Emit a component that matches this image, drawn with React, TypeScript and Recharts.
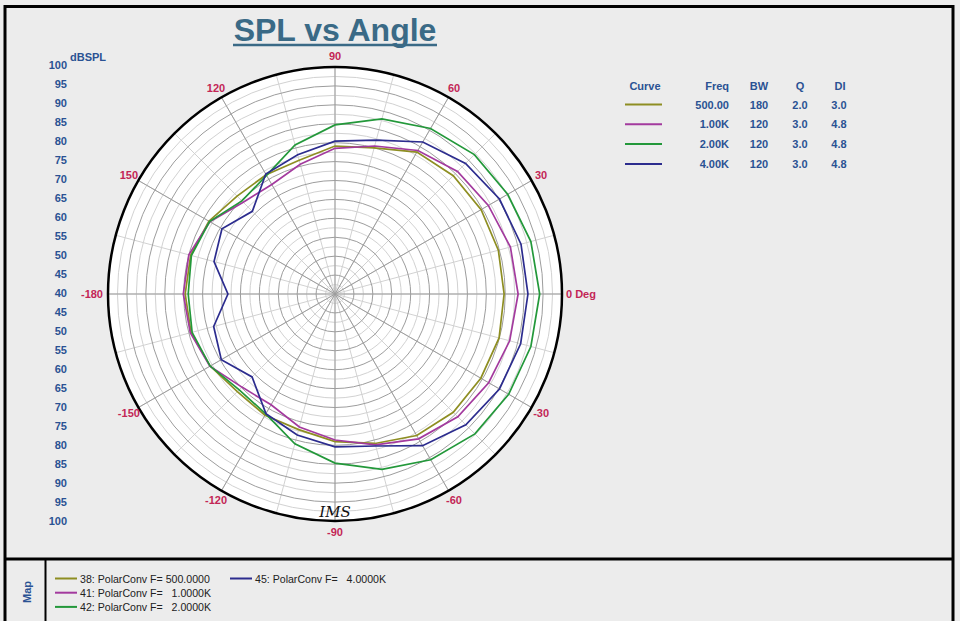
import React from 'react';
import { RadarChart, Radar, PolarGrid, PolarAngleAxis, PolarRadiusAxis } from 'recharts';

// angles in degrees, counter-clockwise from 0 Deg (right)
const angles = [0, 15, 30, 45, 60, 75, 90, 105, 120, 135, 150, 165, 180, 195, 210, 225, 240, 255, 270, 285, 300, 315, 330, 345];

// dBSPL
const spl500 = [84.7, 84.7, 84.6, 84.2, 83.3, 80.0, 79.1, 76.6, 76.4, 76.6, 78.5, 79.5, 79.6, 79.4, 78.1, 76.5, 77.0, 77.1, 79.0, 80.9, 83.2, 84.2, 84.5, 84.9];
const spl1k = [88.4, 88.0, 86.8, 85.8, 83.8, 80.5, 78.5, 75.5, 73.4, 74.3, 78.2, 80.0, 80.1, 79.6, 78.2, 74.8, 73.8, 76.4, 78.6, 81.3, 84.2, 85.9, 86.9, 87.8];
const spl2k = [94.1, 93.6, 92.7, 92.1, 90.5, 87.9, 84.7, 80.8, 76.2, 74.8, 78.3, 79.3, 78.8, 79.1, 78.1, 75.8, 76.6, 81.0, 84.7, 88.0, 90.6, 92.3, 93.0, 93.6];
const spl4k = [91.0, 90.9, 90.2, 88.8, 86.4, 82.1, 80.4, 78.1, 76.6, 70.9, 74.5, 73.1, 68.3, 73.2, 74.7, 71.0, 76.5, 78.6, 80.4, 81.6, 86.3, 88.9, 90.2, 90.8];

const angleTickLabels = ['0 Deg', '30', '60', '90', '120', '150', '-180', '-150', '-120', '-90', '-60', '-30'];
const dbTicks = [100, 95, 90, 85, 80, 75, 70, 65, 60, 55, 50, 45, 40, 45, 50, 55, 60, 65, 70, 75, 80, 85, 90, 95, 100];
const minorRings = [42.5, 47.5, 52.5, 57.5, 62.5, 67.5, 72.5, 77.5, 82.5, 87.5, 92.5, 97.5];
const majorRings = [45, 50, 55, 60, 65, 70, 75, 80, 85, 90, 95];

const curveFreq = ['500.00', '1.00K', '2.00K', '4.00K'];
const curveBW = ['180', '120', '120', '120'];
const curveQ = ['2.0', '3.0', '3.0', '3.0'];
const curveDI = ['3.0', '4.8', '4.8', '4.8'];
const mapLabels = ['38: PolarConv F= 500.0000', '41: PolarConv F=   1.0000K', '42: PolarConv F=   2.0000K', '45: PolarConv F=   4.0000K'];

const keys = ['f500', 'f1k', 'f2k', 'f4k'];
const colors = ['#8e8e22', '#a33a9e', '#23983a', '#2c2c8e'];

// the chart runs from 360 down to 0, so rows go 0, 345, 330 ... 15 to come out counter-clockwise
const order = angles.map((_, j) => (angles.length - j) % angles.length);
const data = order.map((i) => ({ angle: angles[i], f500: spl500[i], f1k: spl1k[i], f2k: spl2k[i], f4k: spl4k[i] }));

const CX = 335;
const CY = 294;
const R = 227;
const MIN_DB = 40;
const MAX_DB = 100;
const rOf = (v: number) => ((v - MIN_DB) / (MAX_DB - MIN_DB)) * R;

const FONT = 'Liberation Sans, Arial, sans-serif';
const BLUE = '#2a5293';
const RED = '#c32656';

// place the label from the tick's own angle value
const AngleTick = (props: any) => {
  const a = Number(props.payload.value);
  if (a % 30 !== 0) return null;
  const rad = (a * Math.PI) / 180;
  const x = CX + (R + 11) * Math.cos(rad);
  const y = CY - (R + 11) * Math.sin(rad);
  let anchor = 'middle';
  let dx = 0;
  if (a === 0) { anchor = 'start'; dx = -7; }
  if (a === 180) { anchor = 'end'; dx = 6; }
  return (
    <text x={x + dx} y={y} textAnchor={anchor} dominantBaseline="central" fill={RED} fontSize={11} fontWeight="bold" fontFamily={FONT}>
      {angleTickLabels[a / 30]}
    </text>
  );
};

export default function App() {
  const legendX = [729, 759, 800, 839];
  return (
    <div style={{ position: 'absolute', left: 0, top: 0, width: 960, height: 621, background: '#ececec', overflow: 'hidden' }}>
      <svg width={960} height={621} style={{ position: 'absolute', left: 0, top: 0 }} fontFamily={FONT}>
        {/* frame */}
        <line x1={5} y1={6.5} x2={953} y2={6.5} stroke="#000" strokeWidth={3} />
        <line x1={5} y1={5} x2={5} y2={621} stroke="#000" strokeWidth={3} />
        <line x1={953} y1={5} x2={953} y2={621} stroke="#000" strokeWidth={3} />
        <line x1={5} y1={559} x2={953} y2={559} stroke="#000" strokeWidth={3} />
        <line x1={45.5} y1={559} x2={45.5} y2={621} stroke="#000" strokeWidth={2} />
        <circle cx={CX} cy={CY} r={R} fill="#fff" />

        {/* title */}
        <text x={335} y={41} textAnchor="middle" fontSize={32} fontWeight="bold" fill="#3a6a86">SPL vs Angle</text>
        <line x1={233} y1={45} x2={437} y2={45} stroke="#3a6a86" strokeWidth={2.5} />

        {/* dB scale */}
        <text x={70} y={57} fontSize={11} fontWeight="bold" fill={BLUE} dominantBaseline="central">dBSPL</text>
        {dbTicks.map((v, i) => (
          <text key={i} x={67} y={65 + i * 19} textAnchor="end" dominantBaseline="central" fontSize={11} fontWeight="bold" fill={BLUE}>{v}</text>
        ))}

        {/* curve table */}
        <g fontSize={11} fontWeight="bold" fill={BLUE}>
          <text x={645} y={86} textAnchor="middle" dominantBaseline="central">Curve</text>
          <text x={729} y={86} textAnchor="end" dominantBaseline="central">Freq</text>
          <text x={759} y={86} textAnchor="middle" dominantBaseline="central">BW</text>
          <text x={800} y={86} textAnchor="middle" dominantBaseline="central">Q</text>
          <text x={840} y={86} textAnchor="middle" dominantBaseline="central">DI</text>
          {curveFreq.map((f, i) => {
            const y = 104.5 + i * 19.8;
            return (
              <g key={i}>
                <line x1={625} y1={y} x2={662} y2={y} stroke={colors[i]} strokeWidth={2} />
                <text x={legendX[0]} y={y} textAnchor="end" dominantBaseline="central">{f}</text>
                <text x={legendX[1]} y={y} textAnchor="middle" dominantBaseline="central">{curveBW[i]}</text>
                <text x={legendX[2]} y={y} textAnchor="middle" dominantBaseline="central">{curveQ[i]}</text>
                <text x={legendX[3]} y={y} textAnchor="middle" dominantBaseline="central">{curveDI[i]}</text>
              </g>
            );
          })}
        </g>

        {/* map panel */}
        <text x={27} y={592} transform="rotate(-90 27 592)" textAnchor="middle" dominantBaseline="central" fontSize={11} fontWeight="bold" fill={BLUE}>Map</text>
        {mapLabels.map((t, i) => {
          const col = i === 3 ? 1 : 0;
          const row = i === 3 ? 0 : i;
          const lx = col === 0 ? 55 : 230;
          const y = 578.5 + row * 14.2;
          return (
            <g key={i}>
              <line x1={lx} y1={y} x2={lx + 22} y2={y} stroke={colors[i]} strokeWidth={2} />
              <text x={lx + 25} y={y} dominantBaseline="central" fontSize={10.6} fill="#222" xmlSpace="preserve" style={{ whiteSpace: 'pre' }}>{t}</text>
            </g>
          );
        })}
      </svg>

      <div style={{ position: 'absolute', left: 0, top: 0 }}>
        <RadarChart width={960} height={621} data={data} cx={CX} cy={CY} outerRadius={R} startAngle={360} endAngle={0}>
          <PolarGrid gridType="circle" polarAngles={angles} polarRadius={minorRings.map(rOf)} stroke="#d2d2d2" strokeWidth={1} />
          <PolarGrid gridType="circle" polarAngles={angles.filter((a) => a % 30 === 0)} polarRadius={majorRings.map(rOf)} stroke="#9d9d9d" strokeWidth={1} />
          <PolarRadiusAxis domain={[MIN_DB, MAX_DB]} type="number" tick={false} axisLine={false} />
          <PolarAngleAxis dataKey="angle" axisLineType="circle" tick={<AngleTick />} tickSize={11} tickLine={false} axisLine={{ stroke: '#000', strokeWidth: 2.5 }} />
          {keys.map((k, i) => (
            <Radar key={k} dataKey={k} stroke={colors[i]} strokeWidth={1.7} fill="none" fillOpacity={0} dot={false} isAnimationActive={false} />
          ))}
        </RadarChart>
      </div>

      <svg width={960} height={621} style={{ position: 'absolute', left: 0, top: 0, pointerEvents: 'none' }}>
        <text x={335} y={512} textAnchor="middle" dominantBaseline="central" fontSize={15} fontStyle="italic" fontFamily="DejaVu Serif, serif" fill="#111">IMS</text>
      </svg>
    </div>
  );
}
